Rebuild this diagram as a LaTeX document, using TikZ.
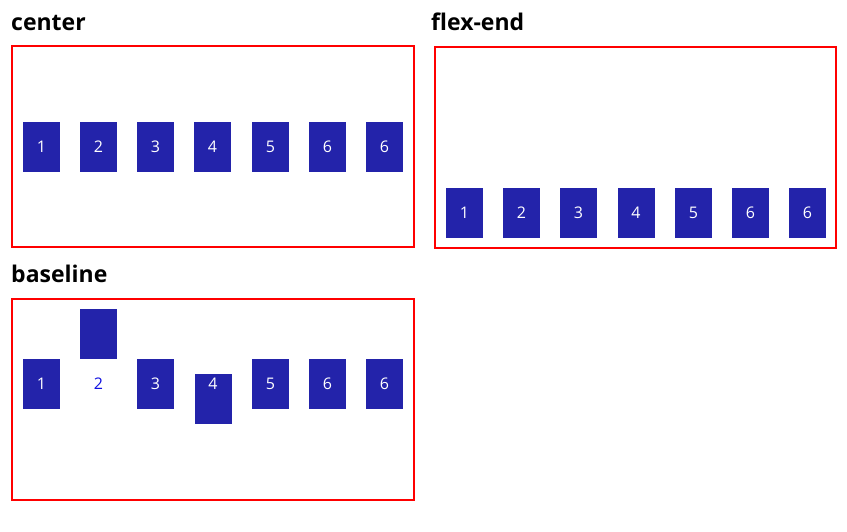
\documentclass[tikz,border=0pt]{standalone}
\usepackage{fontspec}
\setmainfont{Open Sans}
\definecolor{boxblue}{HTML}{2323AA}
\definecolor{txtblue}{HTML}{1010E0}
\tikzset{
  frame/.style={draw=red, line width=2pt},
  item/.style={fill=boxblue, draw=none, minimum width=37pt, minimum height=50pt, inner sep=0pt, text=white, font=\fontsize{16}{16}\selectfont},
  num/.style={inner sep=0pt, font=\fontsize{16}{16}\selectfont},
  title/.style={anchor=base west, inner sep=0pt, font=\bfseries\fontsize{23}{23}\selectfont}
}
\begin{document}
\begin{tikzpicture}[x=1pt,y=-1pt]
\useasboundingbox (0,0) rectangle (847,532);
% titles
\node[title] (tc) at (11,31) {center};
\node[title] (tf) at (431,31) {flex-end};
\node[title] (tb) at (11,283) {baseline};
% frames
\draw[frame] (12,46) rectangle (414,247.5);
\draw[frame] (435,47) rectangle (836,248.3);
\draw[frame] (12,298.5) rectangle (414,499.5);
% center row
\node[item] (c1) at (41.5,147) {1};
\node[item] (c2) at (98.5,147) {2};
\node[item] (c3) at (155.5,147) {3};
\node[item] (c4) at (212.5,147) {4};
\node[item] (c5) at (270.5,147) {5};
\node[item] (c6) at (327.5,147) {6};
\node[item] (c7) at (384.5,147) {6};
% flex-end row
\node[item] (f1) at (464.5,213) {1};
\node[item] (f2) at (521.5,213) {2};
\node[item] (f3) at (578.5,213) {3};
\node[item] (f4) at (636,213) {4};
\node[item] (f5) at (693.5,213) {5};
\node[item] (f6) at (750.5,213) {6};
\node[item] (f7) at (807.5,213) {6};
% baseline row
\node[item] (b1) at (41.5,384) {1};
\node[item] (b2) at (98.5,334) {};
\node[num, text=txtblue] (b2t) at (98.5,384) {2};
\node[item] (b3) at (155.5,384) {3};
\node[item] (b4) at (213,399) {};
\node[num, text=white] (b4t) at (213,384) {4};
\node[item] (b5) at (270.5,384) {5};
\node[item] (b6) at (327.5,384) {6};
\node[item] (b7) at (384.5,384) {6};
\end{tikzpicture}
\end{document}
